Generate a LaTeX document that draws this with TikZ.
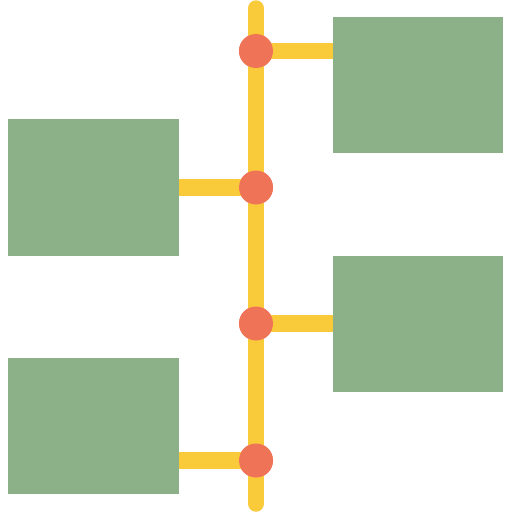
\documentclass[tikz,border=0pt]{standalone}
\definecolor{ylw}{HTML}{F9CB3A}
\definecolor{dot}{HTML}{EF7457}
\definecolor{grn}{HTML}{8CB088}
\tikzset{
  bar/.style={draw=ylw,line width=16.5pt},
  box/.style={fill=grn,draw=none},
  dotc/.style={circle,fill=dot,draw=none,minimum size=34pt,inner sep=0pt}
}
\begin{document}
\begin{tikzpicture}[x=1pt,y=-1pt]
\useasboundingbox (0,0) rectangle (512,512);
\fill[box] (333,17) rectangle (503,153);
\fill[box] (8,119) rectangle (179,255.5);
\fill[box] (333,256) rectangle (503,391.5);
\fill[box] (8,358) rectangle (179,494);
\coordinate (top) at (256,8.5);
\coordinate (bot) at (256,503.5);
\node[dotc] (d1) at (256,51) {};
\node[dotc] (d2) at (256,187.5) {};
\node[dotc] (d3) at (256,323.5) {};
\node[dotc] (d4) at (256,460.5) {};
\coordinate (r1) at (333,51);
\coordinate (l2) at (179,187.5);
\coordinate (r3) at (333,323.5);
\coordinate (l4) at (179,460.5);
\begin{scope}[on background layer/.try]
\end{scope}
\draw[bar,line cap=round] (top) -- (bot);
\draw[bar] (d1.center) -- (r1);
\draw[bar] (d2.center) -- (l2);
\draw[bar] (d3.center) -- (r3);
\draw[bar] (d4.center) -- (l4);
\node[dotc] at (d1) {};
\node[dotc] at (d2) {};
\node[dotc] at (d3) {};
\node[dotc] at (d4) {};
\end{tikzpicture}
\end{document}
